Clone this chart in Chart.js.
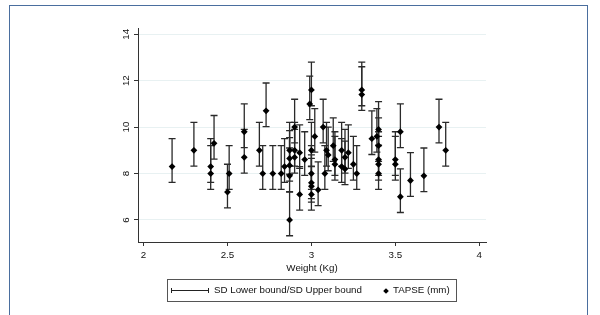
<!DOCTYPE html>
<html>
<head>
<meta charset="utf-8">
<script src="https://cdn.jsdelivr.net/npm/chart.js@4.4.1/dist/chart.umd.min.js"></script>
<style>
  html, body { margin: 0; padding: 0; background: #fff; }
  body { width: 600px; height: 315px; position: relative; overflow: hidden; font-family: "Liberation Sans", Arial, sans-serif; }
  #frame { position: absolute; left: 9px; top: 5px; width: 579px; height: 400px; border: 1.5px solid #4a6e9e; box-sizing: border-box; }
  #wrap { position: absolute; left: 0; top: 0; width: 600px; height: 315px; }
  #legend { position: absolute; left: 167px; top: 279px; width: 290px; height: 23px; border: 1px solid #555; box-sizing: border-box; font-size: 9.75px; color: #111; }
  #legend .t1 { position: absolute; left: 46px; top: 4px; white-space: nowrap; }
  #legend .t2 { position: absolute; left: 225px; top: 4px; white-space: nowrap; }
  #legend .ln { position: absolute; left: 3px; top: 10px; width: 38px; height: 0; border-top: 1px solid #222; }
  #legend .c1, #legend .c2 { position: absolute; top: 8px; width: 0; height: 5px; border-left: 1px solid #222; }
  #legend .c1 { left: 3px; } #legend .c2 { left: 40px; }
  #legend .dm { position: absolute; left: 216px; top: 8.5px; width: 4px; height: 4px; background: #000; transform: rotate(45deg); }
</style>
</head>
<body>
<div id="frame"></div>
<div id="wrap"><canvas id="c" width="600" height="315"></canvas></div>
<div id="legend">
  <div class="ln"></div><div class="c1"></div><div class="c2"></div>
  <span class="t1">SD Lower bound/SD Upper bound</span>
  <div class="dm"></div>
  <span class="t2">TAPSE (mm)</span>
</div>
<script>
const weights = [2.17,2.30,2.40,2.40,2.42,2.50,2.51,2.60,2.60,2.69,
  2.71,2.73,2.77,2.82,2.84,2.87,2.87,2.87,2.87,2.87,
  2.90,2.90,2.90,2.93,2.93,2.96,2.99,3.00,3.00,3.00,
  3.00,3.00,3.00,3.02,3.04,3.07,3.08,3.09,3.10,3.13,
  3.14,3.14,3.18,3.18,3.20,3.20,3.22,3.25,3.27,3.30,
  3.30,3.36,3.39,3.40,3.40,3.40,3.40,3.40,3.50,3.50,
  3.53,3.53,3.59,3.67,3.76,3.80];
const tapse = [8.3,9.0,8.3,8.0,9.3,7.2,8.0,9.8,8.7,9.0,
  8.0,10.7,8.0,8.0,8.3,9.0,8.65,8.35,7.9,6.0,
  9.0,8.7,10.0,8.9,7.1,8.6,11.0,11.6,9.0,8.0,
  7.6,7.45,7.1,9.6,7.3,10.0,8.0,9.0,8.8,9.2,
  8.6,8.4,9.0,8.3,8.7,8.2,8.9,8.4,8.0,11.6,
  11.4,9.5,9.6,9.9,9.2,8.6,8.4,8.0,8.6,8.4,
  9.8,7.0,7.7,7.9,10.0,9.0];
const sdLower = [7.62,8.32,7.62,7.32,8.62,6.52,7.32,9.12,8.02,8.32,
  7.32,10.02,7.32,7.32,7.62,8.32,7.97,7.67,7.22,5.32,
  8.32,8.02,9.32,8.22,6.42,7.92,10.32,10.92,8.32,7.32,
  6.92,6.77,6.42,8.92,6.62,9.32,7.32,8.32,8.12,8.52,
  7.92,7.72,8.32,7.62,8.02,7.52,8.22,7.72,7.32,10.92,
  10.72,8.82,8.92,9.22,8.52,7.92,7.72,7.32,7.92,7.72,
  9.12,6.32,7.02,7.22,9.32,8.32];
const sdUpper = [9.5,10.2,9.5,9.2,10.5,8.4,9.2,11.0,9.9,10.2,
  9.2,11.9,9.2,9.2,9.5,10.2,9.85,9.55,9.1,7.2,
  10.2,9.9,11.2,10.1,8.3,9.8,12.2,12.8,10.2,9.2,
  8.8,8.65,8.3,10.8,8.5,11.2,9.2,10.2,10.0,10.4,
  9.8,9.6,10.2,9.5,9.9,9.4,10.1,9.6,9.2,12.8,
  12.6,10.7,10.8,11.1,10.4,9.8,9.6,9.2,9.8,9.6,
  11.0,8.2,8.9,9.1,11.2,10.2];
const xTicks = [2, 2.5, 3, 3.5, 4];
const yTicks = [6, 8, 10, 12, 14];

const errorBars = {
  id: 'errorBars',
  beforeDatasetsDraw(chart) {
    const {ctx, scales: {x, y}} = chart;
    ctx.save();
    ctx.strokeStyle = '#2a2a2a';
    ctx.lineWidth = 1.3;
    const cap = 3.5;
    for (let i = 0; i < weights.length; i++) {
      const px = x.getPixelForValue(weights[i]);
      const pLo = y.getPixelForValue(sdLower[i]);
      const pHi = y.getPixelForValue(sdUpper[i]);
      ctx.beginPath();
      ctx.moveTo(px, pLo); ctx.lineTo(px, pHi);
      ctx.moveTo(px - cap, pLo); ctx.lineTo(px + cap, pLo);
      ctx.moveTo(px - cap, pHi); ctx.lineTo(px + cap, pHi);
      ctx.stroke();
    }
    ctx.restore();
  }
};

const tickFont = { family: '"Liberation Sans", Arial, sans-serif', size: 9.75 };

new Chart(document.getElementById('c'), {
  type: 'scatter',
  data: {
    datasets: [{
      label: 'TAPSE (mm)',
      data: weights.map((w, i) => ({ x: w, y: tapse[i] })),
      pointStyle: 'rectRot',
      pointRadius: 3.4,
      backgroundColor: '#000',
      borderColor: '#000',
      borderWidth: 0
    }]
  },
  options: {
    responsive: false,
    animation: false,
    events: [],
    layout: { padding: { left: 108, right: 114, top: 28, bottom: 39 } },
    plugins: { legend: { display: false }, tooltip: { enabled: false } },
    scales: {
      x: {
        type: 'linear',
        min: 1.967, max: 4.04,
        afterBuildTicks: s => { s.ticks = xTicks.map(v => ({ value: v })); },
        afterFit: s => { s.height = 34; },
        grid: { drawOnChartArea: false, drawTicks: true, tickLength: 4, tickColor: '#333' },
        border: { display: true, color: '#333', width: 1 },
        ticks: { font: tickFont, color: '#111', padding: 3, maxRotation: 0, autoSkip: false, callback: v => String(v) },
        title: { display: true, text: 'Weight (Kg)', font: { family: '"Liberation Sans", Arial, sans-serif', size: 9.75 }, color: '#111', padding: { top: 0, bottom: 1.5 } }
      },
      y: {
        type: 'linear',
        min: 5.05, max: 14.27,
        afterBuildTicks: s => { s.ticks = yTicks.map(v => ({ value: v })); },
        afterFit: s => { s.width = 30; },
        grid: { color: '#e8f1f2', lineWidth: 1, drawTicks: true, tickLength: 4, tickColor: '#333' },
        border: { display: true, color: '#333', width: 1 },
        ticks: { font: tickFont, color: '#111', padding: 2, minRotation: 90, maxRotation: 90, crossAlign: 'center', autoSkip: false, callback: v => String(v) }
      }
    }
  },
  plugins: [errorBars]
});
</script>
</body>
</html>
